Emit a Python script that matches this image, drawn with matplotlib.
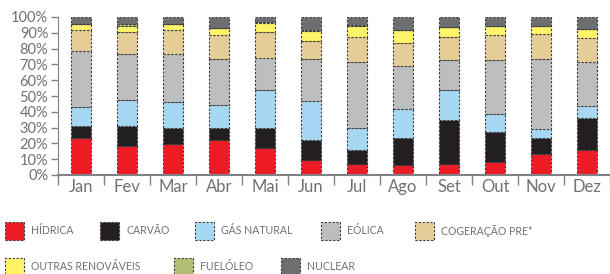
import matplotlib
matplotlib.use("Agg")
import matplotlib.pyplot as plt
from matplotlib.patches import Rectangle
import numpy as np

months = ["Jan", "Fev", "Mar", "Abr", "Mai", "Jun", "Jul", "Ago", "Set", "Out", "Nov", "Dez"]
series_names = ["HÍDRICA", "CARVÃO", "GÁS NATURAL", "EÓLICA", "COGERAÇÃO PRE*",
                "OUTRAS RENOVÁVEIS", "FUELÓLEO", "NUCLEAR"]
hidrica = [23.2, 18.1, 19.8, 21.9, 16.9, 9.7, 6.8, 6.1, 7.2, 8.4, 13.1, 16.0]
carvao = [8.0, 12.7, 9.7, 7.6, 12.6, 12.2, 8.8, 17.1, 27.8, 18.6, 10.1, 20.3]
gas_natural = [11.8, 16.9, 16.5, 14.8, 24.1, 24.9, 13.9, 18.6, 19.0, 11.4, 5.9, 7.6]
eolica = [35.5, 28.7, 30.4, 29.1, 20.7, 26.6, 41.8, 27.0, 18.6, 34.2, 44.3, 27.4]
cogeracao = [13.1, 14.3, 15.2, 15.2, 16.0, 11.4, 16.0, 14.7, 14.7, 16.0, 15.6, 15.2]
outras_renov = [4.2, 3.4, 3.8, 4.6, 5.9, 6.3, 6.8, 8.1, 6.4, 5.5, 5.5, 5.9]
fueloleo = [0.0, 1.3, 0.0, 0.0, 0.4, 0.9, 0.8, 0.0, 0.0, 0.0, 0.0, 0.0]
nuclear = [4.2, 4.6, 4.6, 6.8, 3.4, 8.0, 5.1, 8.4, 6.3, 5.9, 5.5, 7.6]
yticks = [0, 10, 20, 30, 40, 50, 60, 70, 80, 90, 100]

colors = ["#ED1C24", "#231F20", "#A6D8F3", "#BCBEC0", "#E5CD98", "#FFF36A", "#B3BE74", "#6D6E70"]
data = [hidrica, carvao, gas_natural, eolica, cogeracao, outras_renov, fueloleo, nuclear]

plt.rcParams['font.family'] = ['Lato', 'DejaVu Sans']
txt = "#707173"
axc = "#808285"

fig = plt.figure(figsize=(6.10, 2.74), dpi=100)
ax = fig.add_axes([58/610, 1 - 175/274, 552/610, 158/274])

x = np.arange(len(months))
bottom = np.zeros(len(months))
for vals, c in zip(data, colors):
    v = np.array(vals)
    ax.bar(x, v, bottom=bottom, width=0.43, color=c, edgecolor="#3a3a3a",
           linewidth=0.8, linestyle=(0, (2, 1.5)), zorder=2)
    bottom += v

ax.set_xlim(-0.5, len(months) - 0.5)
ax.set_ylim(0, 100)
ax.set_yticks(yticks)
ax.set_yticklabels([f"{t}%" for t in yticks], fontsize=10.5, color=txt)
ax.set_xticks(x)
ax.set_xticklabels(months, fontsize=12, color=txt)
ax.set_xticks(np.arange(-0.5, len(months)), minor=True)
ax.tick_params(axis='x', which='major', length=0, pad=3)
ax.tick_params(axis='x', which='minor', length=7, width=1, color=axc, direction='out')
ax.tick_params(axis='y', length=5, width=1, color=axc, pad=2)
for s in ["top", "right"]:
    ax.spines[s].set_visible(False)
ax.spines["left"].set_color(axc)
ax.spines["bottom"].set_color(axc)
ax.spines["bottom"].set_linewidth(1.5)
ax.spines["bottom"].set_zorder(3)

# legend (manual, figure pixel coordinates)
W, H = 610, 274
leg_pos = [(5, 231), (100, 231), (195, 231), (321, 231), (415, 231),
           (5, 267), (174, 267), (281, 267)]
for (px, py), name, c in zip(leg_pos, series_names, colors):
    r = Rectangle((px / W, (H - py - 9) / H), 19 / W, 18 / H, transform=fig.transFigure,
                  facecolor=c, edgecolor="#3a3a3a", linewidth=0.8, linestyle=(0, (2, 1.5)))
    fig.patches.append(r)
    fig.text((px + 26) / W, (H - py) / H, name, fontsize=7.6, color=txt, va='center', ha='left')

fig.savefig("out.png", dpi=100)
